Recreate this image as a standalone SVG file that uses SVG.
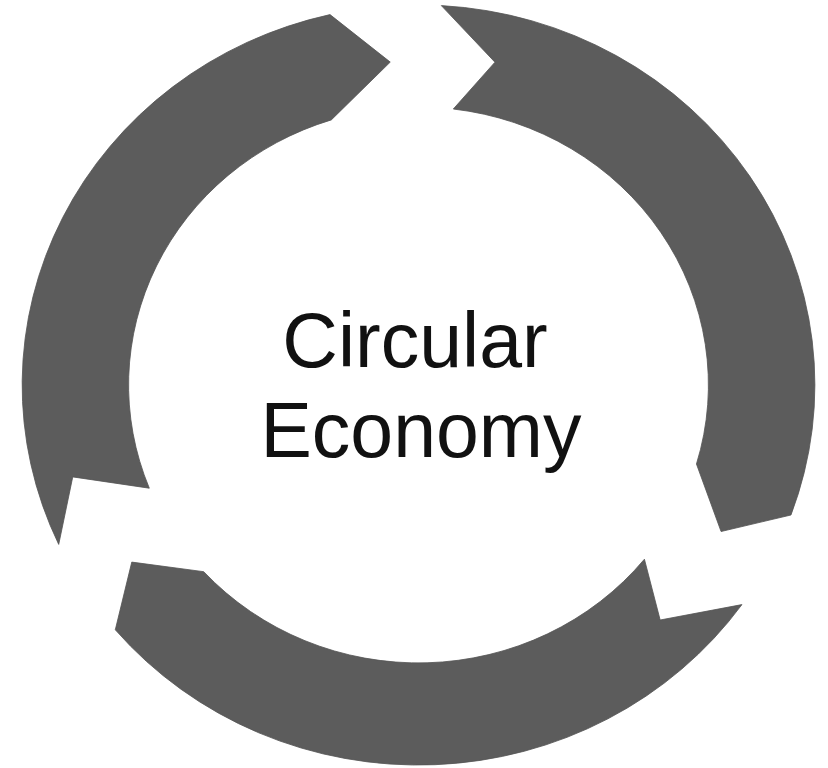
<svg xmlns="http://www.w3.org/2000/svg" width="828" height="768" viewBox="0 0 828 768">
  <style>
    .arrow { fill: #5c5c5c; stroke: #555555; stroke-width: 0.8; stroke-linejoin: miter; }
    .label { font-family: "Liberation Sans", Arial, sans-serif; font-size: 77px; fill: #111111; text-anchor: middle; }
  </style>
  <rect width="828" height="768" fill="#ffffff"/>
  <g id="cycle" transform="translate(418.5,385) scale(1.043,1)">
    <g id="arrow-top-left">
      <path class="arrow" d="M -344.96 159.4 A 380 380 0 0 1 -84.85 -370.4 L -27.1 -322.9 L -83.6 -265.1 A 278 278 0 0 0 -258.1 103.2 L -331.5 91.9 Z"/>
    </g>
    <g id="arrow-right">
      <path class="arrow" d="M 21.9 -379.4 A 380 380 0 0 1 357.1 130.0 L 290.1 146.5 L 266.5 79.0 A 278 278 0 0 0 33.4 -276.0 L 73.3 -322.8 Z"/>
    </g>
    <g id="arrow-bottom">
      <path class="arrow" d="M 310.1 219.6 A 380 380 0 0 1 -290.7 244.8 L -274.9 177.1 L -205.9 186.7 A 278 278 0 0 0 216.6 174.2 L 231.7 235.0 Z"/>
    </g>
  </g>
  <g id="center-label">
    <text class="label" x="415" y="367">Circular</text>
    <text class="label" x="421" y="457">Economy</text>
  </g>
</svg>
